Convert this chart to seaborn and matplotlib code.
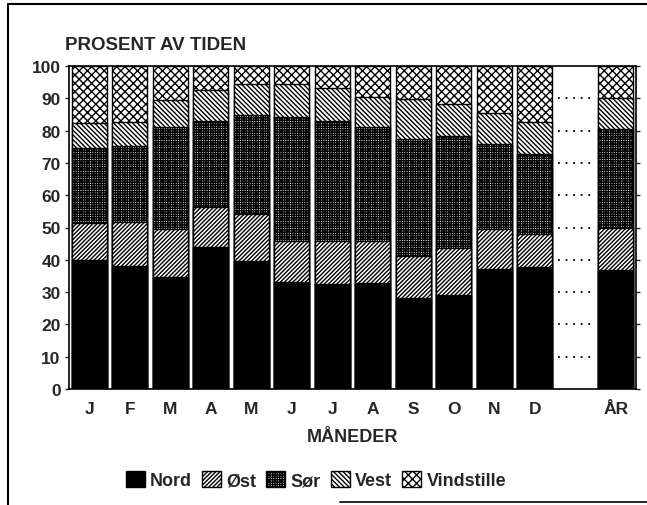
import matplotlib
matplotlib.use("Agg")
import matplotlib.pyplot as plt
from matplotlib.patches import Patch
from matplotlib.lines import Line2D
import seaborn as sns
import pandas as pd
import numpy as np

# ---- data ----
keys = ["Jan", "Feb", "Mar", "Apr", "Mai", "Jun", "Jul", "Aug", "Sep", "Okt", "Nov", "Des", "gap", "Aar"]
tick_labels = ["J", "F", "M", "A", "M", "J", "J", "A", "S", "O", "N", "D", "", "ÅR"]
nord = [40.0, 38.2, 34.6, 44.1, 39.5, 33.0, 32.5, 32.7, 28.2, 29.2, 37.2, 37.7, np.nan, 36.8]
ost = [11.3, 13.6, 14.9, 12.2, 14.7, 12.9, 13.4, 13.2, 13.1, 14.5, 12.3, 10.3, np.nan, 13.0]
sor = [23.2, 23.5, 31.7, 26.8, 30.6, 38.2, 37.2, 35.3, 36.1, 34.7, 26.5, 24.9, np.nan, 30.7]
vest = [7.8, 7.3, 8.4, 9.5, 9.6, 10.3, 10.1, 9.3, 12.4, 9.8, 9.3, 9.7, np.nan, 9.7]
vindstille = [17.7, 17.4, 10.4, 7.4, 5.6, 5.6, 6.8, 9.5, 10.2, 11.8, 14.7, 17.4, np.nan, 9.8]
series_names = ["Nord", "Øst", "Sør", "Vest", "Vindstille"]
yticks = [0, 10, 20, 30, 40, 50, 60, 70, 80, 90, 100]

df = pd.DataFrame({"key": keys, "Nord": nord, "Øst": ost, "Sør": sor,
                   "Vest": vest, "Vindstille": vindstille})
cum = df[series_names].cumsum(axis=1)

sns.set_style("white")
plt.rcParams["font.family"] = ["Liberation Sans", "DejaVu Sans"]
plt.rcParams["font.weight"] = "bold"
plt.rcParams["hatch.linewidth"] = 1.0

styles = {
    "Nord": dict(facecolor="black", hatch=None),
    "Øst": dict(facecolor="white", hatch="////////"),
    "Sør": dict(facecolor="white", hatch="+++++++"),
    "Vest": dict(facecolor="white", hatch="\\\\\\\\\\\\\\"),
    "Vindstille": dict(facecolor="white", hatch="xxxx"),
}

fig = plt.figure(figsize=(6.47, 5.06), dpi=100)
ax = fig.add_axes([69 / 647, 1 - 390 / 506, (636 - 69) / 647, (390 - 67) / 506])

for name in reversed(series_names):
    plot_df = pd.DataFrame({"key": keys, "val": cum[name].values}).dropna()
    n_before = len(ax.patches)
    sns.barplot(data=plot_df, x="key", y="val", order=keys, ax=ax,
                color="white", width=0.86, saturation=1, errorbar=None)
    st = styles[name]
    for p in ax.patches[n_before:]:
        p.set_facecolor(st["facecolor"])
        p.set_edgecolor("black")
        p.set_linewidth(1.0)
        if st["hatch"]:
            p.set_hatch(st["hatch"])

ax.set_xlim(-0.5, len(keys) - 0.5)
ax.set_ylim(0, 100)
ax.set_yticks(yticks)
ax.set_yticklabels([str(v) for v in yticks], fontsize=12.5, fontweight="bold")
ax.set_xticks(range(len(keys)))
ax.set_xticklabels(tick_labels, fontsize=12.5, fontweight="bold")
ax.set_xlabel("MÅNEDER", fontsize=13, fontweight="bold", labelpad=9)
ax.set_ylabel("")
for s in ax.spines.values():
    s.set_color("black")
    s.set_linewidth(1.2)
ax.tick_params(axis="y", which="both", left=True, right=True, direction="out",
               length=3, width=1, pad=3)
ax.tick_params(axis="x", bottom=False, pad=5)

# dotted guide lines in the empty column
gi = keys.index("gap")
for v in yticks[1:-1]:
    ax.plot([gi - 0.42, gi + 0.42], [v, v], linestyle=(0, (1, 3.2)), color="black",
            linewidth=1.3)

fig.text(65 / 647, 1 - 45 / 506, "PROSENT AV TIDEN", fontsize=13.5, fontweight="bold",
         ha="left", va="center")

handles = [Patch(facecolor=styles[n]["facecolor"], edgecolor="black",
                 hatch=styles[n]["hatch"], label=n) for n in series_names]
leg = fig.legend(handles=handles, loc="center", bbox_to_anchor=(316 / 647, 1 - 481 / 506),
                 ncol=5, frameon=False, handlelength=1.05, handleheight=1.05,
                 handletextpad=0.3, columnspacing=0.55,
                 prop={"size": 13, "weight": "bold"})

# page border from the scan
fig.add_artist(Line2D([8 / 647, 8 / 647], [0, 1 - 5 / 506], color="black", linewidth=1.5,
                      transform=fig.transFigure))
fig.add_artist(Line2D([8 / 647, 1], [1 - 5 / 506, 1 - 5 / 506], color="black",
                      linewidth=1.5, transform=fig.transFigure))
fig.add_artist(Line2D([340 / 647, 1], [1 - 503 / 506, 1 - 503 / 506], color="black",
                      linewidth=1.2, transform=fig.transFigure))

fig.savefig("out.png", dpi=100, facecolor="white")
